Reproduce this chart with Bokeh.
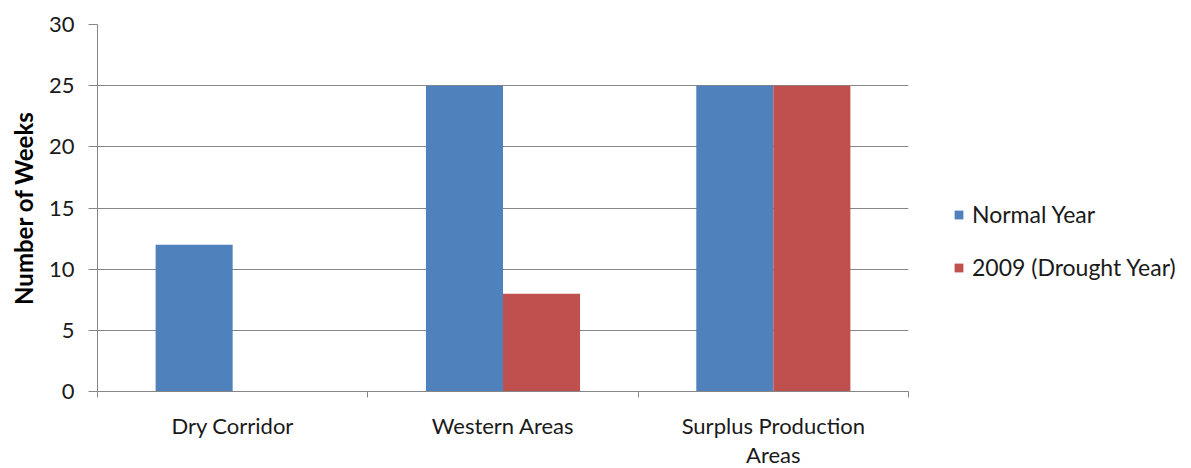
from bokeh.plotting import figure
from bokeh.models import ColumnDataSource, FixedTicker, Legend, LegendItem, Range1d
from bokeh.embed import file_html
from bokeh.resources import INLINE

categories = ["Dry Corridor", "Western Areas", "Surplus Production\nAreas"]
normal_year = [12, 25, 25]
drought_2009 = [0, 8, 25]
y_ticks = [0, 5, 10, 15, 20, 25, 30]
series_names = ["Normal Year", "2009 (Drought Year)"]
colors = ["#4F81BD", "#C0504D"]

FONT = "Lato"
bar_w = 0.285
centers = [i + 0.5 for i in range(len(categories))]

p = figure(frame_width=811, frame_height=367, output_backend="svg", toolbar_location=None,
           x_range=Range1d(0, len(categories)), y_range=Range1d(0, 30),
           min_border_left=97, min_border_right=283, min_border_top=24, min_border_bottom=77)
p.outline_line_color = None
p.background_fill_color = "white"
p.border_fill_color = "white"

src_n = ColumnDataSource(dict(x=[c - bar_w / 2 for c in centers], top=normal_year))
src_d = ColumnDataSource(dict(x=[c + bar_w / 2 for c in centers], top=drought_2009))
r1 = p.vbar(x="x", top="top", width=bar_w, source=src_n, fill_color=colors[0], line_color=None)
r2 = p.vbar(x="x", top="top", width=bar_w, source=src_d, fill_color=colors[1], line_color=None)

# x axis
xa = p.xaxis[0]
xa.ticker = FixedTicker(ticks=centers, minor_ticks=list(range(len(categories) + 1)))
xa.major_label_overrides = {c: lab for c, lab in zip(centers, categories)}
xa.major_tick_out = 0
xa.major_tick_in = 0
xa.minor_tick_out = 6
xa.minor_tick_in = 0
xa.minor_tick_line_color = "#868686"
xa.axis_line_color = "#868686"
xa.major_label_standoff = 14
xa.major_label_text_font = FONT
xa.major_label_text_font_size = "22px"
xa.major_label_text_color = "#1a1a1a"
xa.major_label_text_line_height = 1.1

# y axis
ya = p.yaxis[0]
ya.ticker = FixedTicker(ticks=y_ticks)
ya.minor_tick_line_color = None
ya.major_tick_out = 9
ya.major_tick_in = 0
ya.major_tick_line_color = "#868686"
ya.axis_line_color = "#868686"
ya.major_label_standoff = 14
ya.major_label_text_font = FONT
ya.major_label_text_font_size = "22px"
ya.major_label_text_color = "#1a1a1a"
ya.axis_label = "Number of Weeks"
ya.axis_label_text_font = FONT
ya.axis_label_text_font_style = "bold"
ya.axis_label_text_font_size = "24px"
ya.axis_label_text_color = "#000000"
ya.axis_label_standoff = 8

p.xgrid.grid_line_color = None
p.ygrid.grid_line_color = "#868686"
p.ygrid.grid_line_width = 1

legend = Legend(items=[LegendItem(label=series_names[0], renderers=[r1]),
                       LegendItem(label=series_names[1], renderers=[r2])],
                location=(45, 110))
legend.border_line_color = None
legend.background_fill_alpha = 0
legend.glyph_width = 11
legend.glyph_height = 11
legend.spacing = 25
legend.label_standoff = 8
legend.padding = 0
legend.margin = 0
legend.label_text_font = FONT
legend.label_text_font_size = "23px"
legend.label_text_color = "#1a1a1a"
p.add_layout(legend, "right")

open("out.html", "w").write(file_html(p, INLINE))
